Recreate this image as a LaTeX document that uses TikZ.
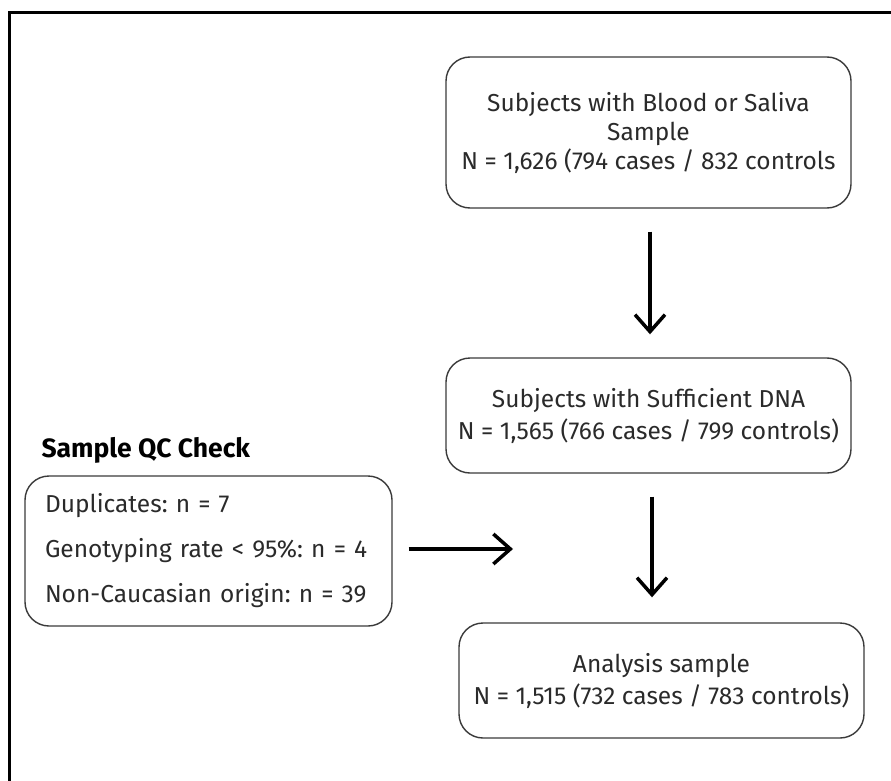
\documentclass[tikz,border=0pt]{standalone}
\usepackage{fontspec}
\setmainfont{Fira Sans}
\usetikzlibrary{arrows.meta}
\frenchspacing
\definecolor{txt}{HTML}{2A2A2A}
\definecolor{edge}{HTML}{3A3A3A}
\tikzset{
  box/.style={draw=edge, line width=1.4pt, rounded corners=24pt, text=txt,
    align=center, inner sep=0pt, minimum width=405pt,
    font=\fontsize{24.5}{32}\selectfont},
  qcbox/.style={draw=edge, line width=1.4pt, rounded corners=24pt, text=txt,
    align=left, inner xsep=20pt, inner ysep=0pt, text width=327pt, minimum height=150pt,
    font=\fontsize{24.5}{45}\selectfont},
  arr/.style={draw=black, line width=3.5pt, -{Straight Barb[length=17pt, width=30pt, line width=3.5pt]}},
  frame/.style={draw=black, line width=3pt}
}
\begin{document}
\frenchspacing
\begin{tikzpicture}[x=1pt, y=-1pt]
\useasboundingbox (0,0) rectangle (891,781);
\draw[frame] (9,781) -- (9,13) -- (891,13);
\node[box, minimum height=151pt] (b1) at (648.5,132.5)
  {Subjects with Blood or Saliva\\[-3pt]Sample\\[-3pt]N = 1,626 (794 cases / 832 controls};
\node[box, minimum height=115pt] (b2) at (648.5,415.5)
  {Subjects with Sufficient DNA\\N = 1,565 (766 cases / 799 controls)};
\node[box, minimum height=115pt] (b4) at (661.5,680.5)
  {Analysis sample\\N = 1,515 (732 cases / 783 controls)};
\node[qcbox] (qc) at (208.5,551)
  {Duplicates: n = 7\\Genotyping rate < 95\%: n = 4\\Non-Caucasian origin: n = 39};
\node[anchor=west, text=black, font=\fontsize{26.5}{30}\selectfont\bfseries] (hd) at (38,450) {Sample QC Check};
\coordinate (ax1) at (650,0);
\coordinate (ax2) at (652,0);
\coordinate (hend) at (513,549);
\draw[arr, shorten <=23pt, shorten >=23pt] (b1.south -| ax1) -- (b2.north -| ax1);
\draw[arr, shorten <=23pt, shorten >=25pt] (b2.south -| ax2) -- (b4.north -| ax2);
\draw[arr, shorten <=16pt] (qc.east |- hend) -- (hend);
\end{tikzpicture}
\end{document}
